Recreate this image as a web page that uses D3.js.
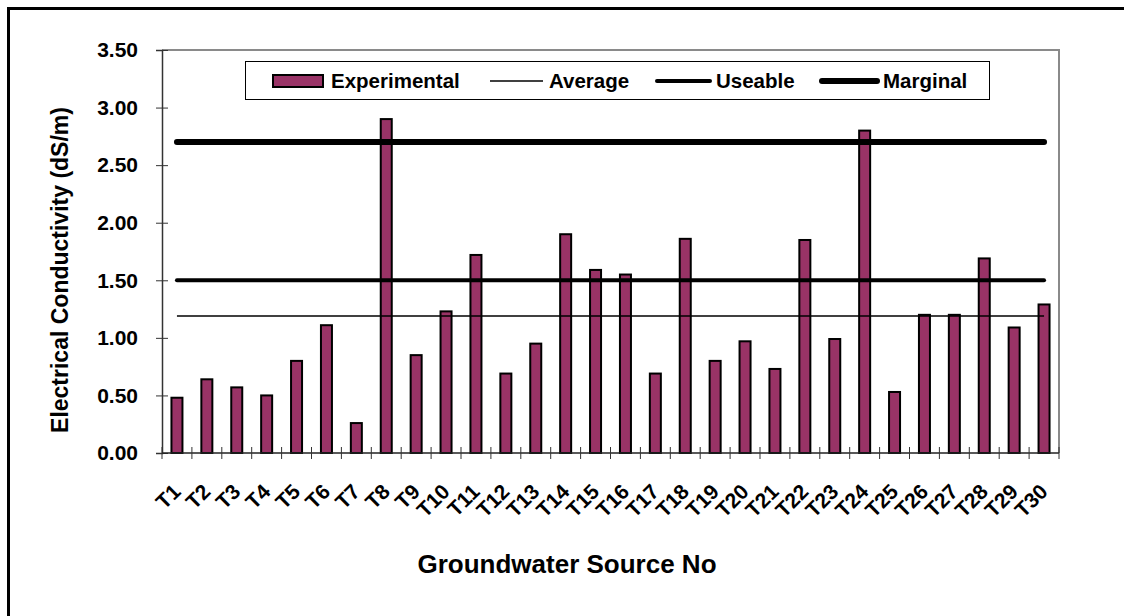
<!DOCTYPE html>
<html>
<head>
<meta charset="utf-8">
<script src="https://cdn.jsdelivr.net/npm/d3@7"></script>
<style>
  body { margin: 0; background: #fff; }
  svg { display: block; font-family: "Liberation Sans", Arial, sans-serif; font-weight: bold; }
</style>
</head>
<body>
<svg id="chart" width="1124" height="616"></svg>
<script>
// data
const sources = ["T1","T2","T3","T4","T5","T6","T7","T8","T9","T10",
                 "T11","T12","T13","T14","T15","T16","T17","T18","T19","T20",
                 "T21","T22","T23","T24","T25","T26","T27","T28","T29","T30"];
const conductivity = [0.48, 0.64, 0.57, 0.50, 0.80, 1.11, 0.26, 2.90, 0.85, 1.23,
                      1.72, 0.69, 0.95, 1.90, 1.59, 1.55, 0.69, 1.86, 0.80, 0.97,
                      0.73, 1.85, 0.99, 2.80, 0.53, 1.20, 1.20, 1.69, 1.09, 1.29];
const refNames = ["Average", "Useable", "Marginal"];
const refValues = [1.19, 1.50, 2.70];
const yTicks = [0, 0.5, 1, 1.5, 2, 2.5, 3, 3.5];
const legendLabels = ["Experimental", "Average", "Useable", "Marginal"];

const svg = d3.select("#chart");
const plotL = 162, plotR = 1059, plotT = 50, plotB = 453;

const x = d3.scaleBand().domain(sources).range([plotL, plotR]);
const y = d3.scaleLinear().domain([0, 3.5]).range([plotB, plotT]);
const refWidth = { Average: 1.5, Useable: 4, Marginal: 6 };

// outer frame (cut off on right and bottom in the original)
svg.append("rect")
  .attr("x", 8.5).attr("y", 8.5).attr("width", 1130).attr("height", 620)
  .attr("fill", "none").attr("stroke", "#000").attr("stroke-width", 3);

// plot area border, top + right
svg.append("path")
  .attr("d", `M${plotL},${plotT}H${plotR}V${plotB}`)
  .attr("fill", "none").attr("stroke", "#8a8a8a").attr("stroke-width", 2);

// bars
const bw = 11;
svg.append("g").selectAll("rect")
  .data(sources)
  .join("rect")
  .attr("x", (d) => x(d) + (x.bandwidth() - bw) / 2)
  .attr("y", (d, i) => y(conductivity[i]))
  .attr("width", bw)
  .attr("height", (d, i) => y(0) - y(conductivity[i]))
  .attr("fill", "#993366")
  .attr("stroke", "#000")
  .attr("stroke-width", 2);

// y axis, ticks crossing the line
const yAxis = svg.append("g")
  .attr("transform", `translate(${plotL},0)`)
  .call(d3.axisLeft(y).tickValues(yTicks).tickFormat(d3.format(".2f")).tickSize(6).tickPadding(18));
yAxis.select(".domain").attr("stroke", "#333").attr("stroke-width", 1.5);
yAxis.selectAll(".tick line").attr("x1", 6).attr("x2", -6).attr("stroke", "#333");
yAxis.selectAll(".tick text")
  .attr("x", -24)
  .style("font-size", "21px").style("font-weight", "bold").attr("fill", "#000");

// x axis: line + boundary ticks + rotated labels
const xg = svg.append("g");
xg.append("line")
  .attr("x1", plotL).attr("x2", plotR).attr("y1", plotB).attr("y2", plotB)
  .attr("stroke", "#222").attr("stroke-width", 1.5);
xg.selectAll(".xt")
  .data(sources.concat([null]))
  .join("line")
  .attr("x1", (d) => d === null ? plotR : x(d))
  .attr("x2", (d) => d === null ? plotR : x(d))
  .attr("y1", plotB - 6).attr("y2", plotB + 6)
  .attr("stroke", "#333").attr("stroke-width", 1);
xg.selectAll(".xl")
  .data(sources)
  .join("text")
  .attr("transform", (d) => `translate(${x(d) + x.bandwidth() / 2 + 5},${plotB + 40}) rotate(-45)`)
  .attr("text-anchor", "end")
  .style("font-size", "21px")
  .text((d) => d);

// reference lines, from first to last category centre
svg.append("g").selectAll("line")
  .data(refNames)
  .join("line")
  .attr("x1", x(sources[0]) + x.bandwidth() / 2)
  .attr("x2", x(sources[sources.length - 1]) + x.bandwidth() / 2)
  .attr("y1", (d, i) => y(refValues[i]))
  .attr("y2", (d, i) => y(refValues[i]))
  .attr("stroke", "#000")
  .attr("stroke-width", (d) => refWidth[d])
  .attr("stroke-linecap", (d) => d === "Average" ? "butt" : "round");

// axis titles
svg.append("text")
  .attr("transform", "translate(68,270) rotate(-90)")
  .attr("text-anchor", "middle")
  .style("font-size", "23px")
  .text("Electrical Conductivity (dS/m)");
svg.append("text")
  .attr("x", 567).attr("y", 573)
  .attr("text-anchor", "middle")
  .style("font-size", "26px")
  .text("Groundwater Source No");

// legend
const lg = svg.append("g");
lg.append("rect")
  .attr("x", 245.5).attr("y", 61.5).attr("width", 744).attr("height", 38)
  .attr("fill", "#fff").attr("stroke", "#000").attr("stroke-width", 1);
const swatchX = [273, 490, 657, 822];
const textX = [331, 549, 716, 883];
const ly = 81;
legendLabels.forEach((name, i) => {
  if (i === 0) {
    lg.append("rect")
      .attr("x", swatchX[i]).attr("y", ly - 6).attr("width", 50).attr("height", 12)
      .attr("fill", "#993366").attr("stroke", "#000").attr("stroke-width", 2);
  } else {
    lg.append("line")
      .attr("x1", swatchX[i]).attr("x2", textX[i] - 6)
      .attr("y1", ly).attr("y2", ly)
      .attr("stroke", "#000")
      .attr("stroke-width", refWidth[name])
      .attr("stroke-linecap", name === "Average" ? "butt" : "round");
  }
  lg.append("text")
    .attr("x", textX[i]).attr("y", ly).attr("dy", "0.35em")
    .style("font-size", "20.5px")
    .text(name);
});
</script>
</body>
</html>
